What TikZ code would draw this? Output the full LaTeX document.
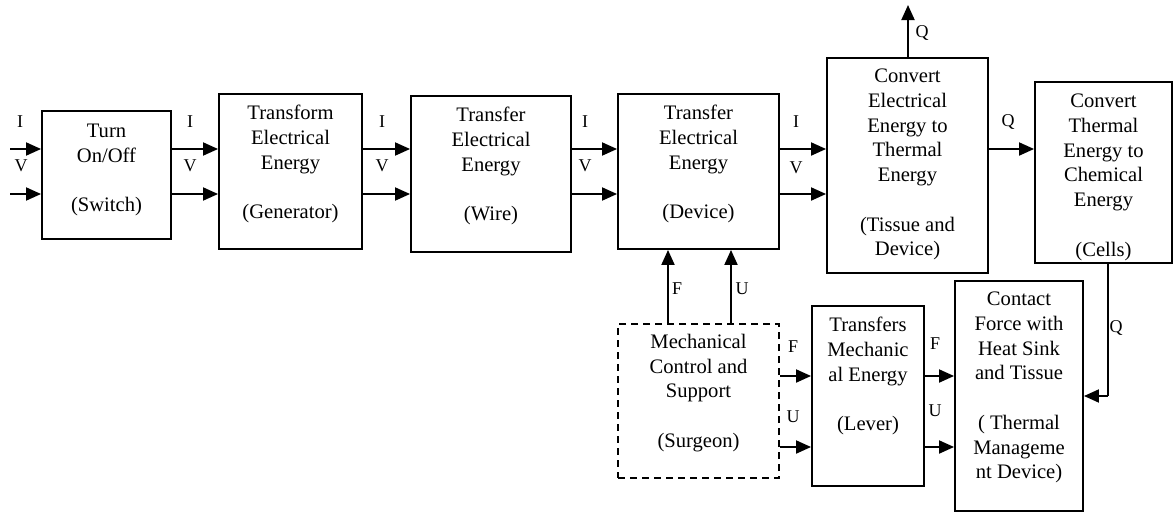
\documentclass[tikz,border=0pt]{standalone}
\usepackage{fontspec}
\setmainfont{Liberation Serif}
\usetikzlibrary{arrows.meta}
\begin{document}
\begin{tikzpicture}[x=1pt,y=-1pt,
  box/.style={draw,line width=1.9pt,inner sep=0pt,rectangle},
  dbox/.style={box,dash pattern=on 7pt off 5pt},
  txt/.style={anchor=north,align=center,inner sep=0pt,font=\fontsize{20.6}{24.7}\selectfont},
  lbl/.style={inner sep=0pt,font=\fontsize{18}{20}\selectfont},
  arr/.style={line width=1.9pt,-{Triangle[length=15pt,width=13pt]}},
  ln/.style={line width=1.9pt}]
\useasboundingbox (0,0) rectangle (1175,514);
% boxes
\node[box,minimum width=129pt,minimum height=128pt] (sw) at (106.5,175) {};
\node[box,minimum width=143pt,minimum height=155pt] (gen) at (290.5,171.5) {};
\node[box,minimum width=160pt,minimum height=156pt] (wire) at (491,174) {};
\node[box,minimum width=161pt,minimum height=155pt] (dev) at (698.5,171.5) {};
\node[box,minimum width=161pt,minimum height=215pt] (th) at (907.5,165.5) {};
\node[box,minimum width=137pt,minimum height=181pt] (cell) at (1103.5,172.5) {};
\node[dbox,minimum width=161pt,minimum height=154pt] (surg) at (698.5,401) {};
\node[box,minimum width=112pt,minimum height=180pt] (lev) at (868,396) {};
\node[box,minimum width=128pt,minimum height=230pt] (tm) at (1019,396) {};
% texts
\node[txt] (swt) at ([yshift=-14pt]sw.north) {Turn\\On/Off\\[24.7pt](Switch)};
\node[txt] (gent) at ([yshift=-12pt]gen.north) {Transform\\Electrical\\Energy\\[24.7pt](Generator)};
\node[txt] (wiret) at ([yshift=-12pt]wire.north) {Transfer\\Electrical\\Energy\\[24.7pt](Wire)};
\node[txt] (devt) at ([yshift=-12pt]dev.north) {Transfer\\Electrical\\Energy\\[24.7pt](Device)};
\node[txt] (tht) at ([yshift=-12pt]th.north) {Convert\\Electrical\\Energy to\\Thermal\\Energy\\[24.7pt](Tissue and\\Device)};
\node[txt] (cellt) at ([yshift=-13pt]cell.north) {Convert\\Thermal\\Energy to\\Chemical\\Energy\\[24.7pt](Cells)};
\node[txt] (surgt) at ([yshift=-11pt]surg.north) {Mechanical\\Control and\\Support\\[24.7pt](Surgeon)};
\node[txt] (levt) at ([yshift=-12pt]lev.north) {Transfers\\Mechanic\\al Energy\\[24.7pt](Lever)};
\node[txt] (tmt) at ([yshift=-12pt]tm.north) {Contact\\Force with\\Heat Sink\\and Tissue\\[24.7pt]( Thermal\\Manageme\\nt Device)};
% coordinates
\coordinate (yI) at (0,149);
\coordinate (yV) at (0,194);
\coordinate (inI) at (10,149);
\coordinate (inV) at (10,194);
\coordinate (qtop) at (908,5);
\coordinate (xF) at (668,0);
\coordinate (xU) at (731,0);
\coordinate (yF) at (0,376);
\coordinate (yU) at (0,447);
\coordinate (qx) at (1108,396);
% upper row
\draw[arr] (inI) -- (sw.west |- inI);
\draw[arr] (inV) -- (sw.west |- inV);
\draw[arr] (sw.east |- yI) -- (gen.west |- yI);
\draw[arr] (sw.east |- yV) -- (gen.west |- yV);
\draw[arr] (gen.east |- yI) -- (wire.west |- yI);
\draw[arr] (gen.east |- yV) -- (wire.west |- yV);
\draw[arr] (wire.east |- yI) -- (dev.west |- yI);
\draw[arr] (wire.east |- yV) -- (dev.west |- yV);
\draw[arr] (dev.east |- yI) -- (th.west |- yI);
\draw[arr] (dev.east |- yV) -- (th.west |- yV);
\draw[arr] (th.east |- yI) -- (cell.west |- yI);
\draw[arr] (th.north -| qtop) -- (qtop);
% surgeon to device
\draw[arr] (surg.north -| xF) -- (dev.south -| xF);
\draw[arr] (surg.north -| xU) -- (dev.south -| xU);
% lower row
\draw[arr] (surg.east |- yF) -- (lev.west |- yF);
\draw[arr] (surg.east |- yU) -- (lev.west |- yU);
\draw[arr] (lev.east |- yF) -- (tm.west |- yF);
\draw[arr] (lev.east |- yU) -- (tm.west |- yU);
\draw[ln] (cell.south -| qx) -- (qx);
\draw[arr] (qx) -- (tm.east |- qx);
% labels
\node[lbl] (l1) at (20,122) {I};
\node[lbl] (l2) at (21,166) {V};
\node[lbl] (l3) at (190,122) {I};
\node[lbl] (l4) at (190,166) {V};
\node[lbl] (l5) at (382,122) {I};
\node[lbl] (l6) at (382,166) {V};
\node[lbl] (l7) at (585,122) {I};
\node[lbl] (l8) at (585,166) {V};
\node[lbl] (l9) at (796,122) {I};
\node[lbl] (l10) at (796,168) {V};
\node[lbl] (l11) at (1008,122) {Q};
\node[lbl] (l12) at (922,33) {Q};
\node[lbl] (l13) at (677,289) {F};
\node[lbl] (l14) at (742,289) {U};
\node[lbl] (l15) at (793,347) {F};
\node[lbl] (l16) at (793,417) {U};
\node[lbl] (l17) at (935,344) {F};
\node[lbl] (l18) at (935,411) {U};
\node[lbl] (l19) at (1116,328) {Q};
\end{tikzpicture}
\end{document}
